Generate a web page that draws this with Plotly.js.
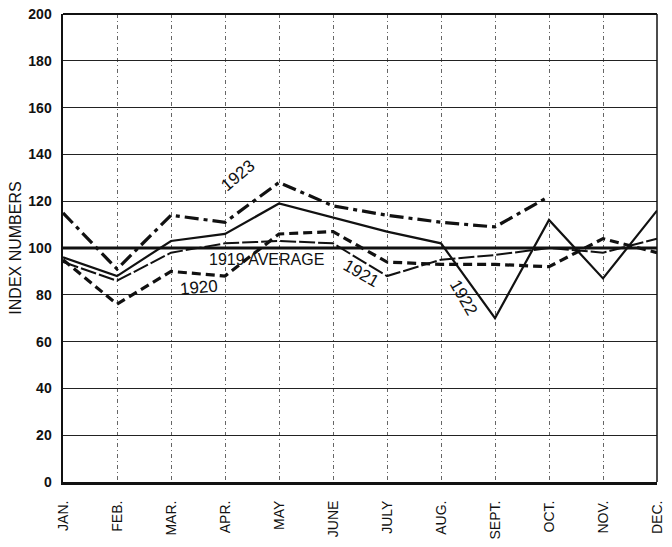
<!DOCTYPE html>
<html>
<head>
<meta charset="utf-8">
<script src="https://cdn.plot.ly/plotly-3.0.1.min.js"></script>
<style>html,body{margin:0;padding:0;background:#fff;}#chart{width:672px;height:547px;}</style>
</head>
<body>
<div id="chart"></div>
<script>
const months = ["JAN.","FEB.","MAR.","APR.","MAY","JUNE","JULY","AUG.","SEPT.","OCT.","NOV.","DEC."];
const avg1919 = [100,100,100,100,100,100,100,100,100,100,100,100];
const y1920 = [95, 76, 90, 88, 106, 107, 94, 93, 93, 92, 104, 98];
const y1921 = [94, 86, 98, 102, 103, 102, 88, 95, 97, 100, 98, 104];
const y1922 = [96, 88, 103, 106, 119, 113, 107, 102, 70, 112, 87, 116];
const y1923 = [115, 91, 114, 111, 128, 118, 114, 111, 109, 122, null, null];
const yTicks = [0,20,40,60,80,100,120,140,160,180,200];

const ink = '#111';
const traces = [
  {x: months, y: avg1919, name: '1919 AVERAGE', mode: 'lines', line: {color: ink, width: 3.2}},
  {x: months, y: y1920, name: '1920', mode: 'lines', line: {color: ink, width: 3.2, dash: '9px,5px'}},
  {x: months, y: y1921, name: '1921', mode: 'lines', line: {color: ink, width: 2, dash: '16px,3px'}},
  {x: months, y: y1922, name: '1922', mode: 'lines', line: {color: ink, width: 2.2}},
  {x: months, y: y1923, name: '1923', mode: 'lines', line: {color: ink, width: 3.2, dash: '14px,5px,4px,5px'}, connectgaps: false}
];

const fam = 'Liberation Sans, Arial, sans-serif';
const labelFont = {family: fam, size: 17, color: ink};
const layout = {
  width: 672, height: 547,
  margin: {l: 63, r: 15, t: 14, b: 65},
  paper_bgcolor: '#fff', plot_bgcolor: '#fff',
  showlegend: false,
  xaxis: {
    type: 'category', range: [0, 11],
    showgrid: true, gridcolor: '#666', gridwidth: 1, griddash: '4px,3px,1px,3px',
    showline: true, linecolor: ink, linewidth: 3,
    zeroline: false,
    tickangle: -90, ticks: 'outside', ticklen: 10, tickcolor: 'rgba(0,0,0,0)',
    tickfont: {family: fam, size: 14, color: ink}
  },
  yaxis: {
    range: [0, 200], tickvals: yTicks, ticktext: yTicks.map(String),
    showgrid: true, gridcolor: '#222', gridwidth: 1.2,
    showline: true, linecolor: ink, linewidth: 2.5,
    zeroline: false, ticks: 'outside', ticklen: 6, tickcolor: 'rgba(0,0,0,0)',
    tickfont: {family: fam, size: 14, color: ink, weight: 'bold'},
    title: {text: 'INDEX NUMBERS', standoff: 3, font: {family: fam, size: 16, color: ink}}
  },
  shapes: [
    {type: 'line', xref: 'paper', yref: 'paper', x0: 0, x1: 1, y0: 1, y1: 1, line: {color: ink, width: 1.8}},
    {type: 'line', xref: 'paper', yref: 'paper', x0: 1, x1: 1, y0: 0, y1: 1, line: {color: ink, width: 1.5}}
  ],
  annotations: [
    {x: 3.24, y: 131, xref: 'x', yref: 'y', text: '1923', showarrow: false, textangle: -40, font: labelFont},
    {x: 2.52, y: 83, xref: 'x', yref: 'y', text: '1920', showarrow: false, textangle: -5, font: labelFont},
    {x: 3.77, y: 95.3, xref: 'x', yref: 'y', text: '1919 AVERAGE', showarrow: false, font: {family: fam, size: 16, color: ink}},
    {x: 5.52, y: 89, xref: 'x', yref: 'y', text: '1921', showarrow: false, textangle: 30, font: labelFont},
    {x: 7.42, y: 79, xref: 'x', yref: 'y', text: '1922', showarrow: false, textangle: 60, font: labelFont}
  ]
};

Plotly.newPlot('chart', traces, layout, {staticPlot: true, displayModeBar: false});
</script>
</body>
</html>
